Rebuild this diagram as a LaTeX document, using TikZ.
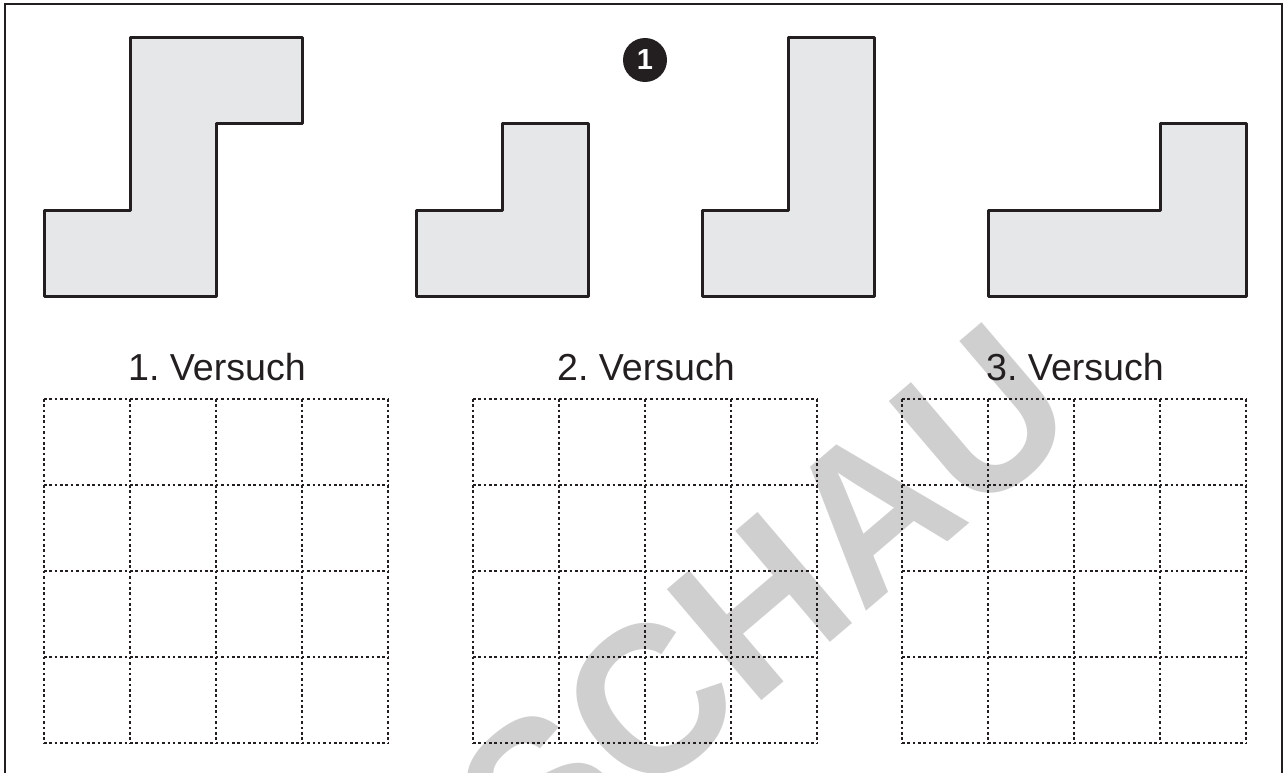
\documentclass[tikz,border=0pt]{standalone}
\usepackage{fontspec}
\setmainfont{Liberation Sans}
\newfontfamily\stampfont{Liberation Sans}[FakeStretch=0.956]
\usepackage{xcolor}
\usetikzlibrary{positioning}
\frenchspacing
\definecolor{inkblack}{HTML}{231F20}
\definecolor{shapegray}{HTML}{E6E7E8}
\definecolor{markgray}{HTML}{CFCFCF}
\tikzset{piece/.style={draw=inkblack,fill=shapegray,line width=3pt,line join=round},
  cellgrid/.style={draw=inkblack,line width=1.6pt,dash pattern=on 2.6pt off 2.77pt},
  trial/.style={anchor=base,font=\fontsize{37.6}{40}\selectfont,text=inkblack,inner sep=0pt},
  badge/.style={circle,fill=inkblack,minimum size=44pt,inner sep=0pt,text=white,font=\fontsize{29}{32}\selectfont\bfseries},
  stamp/.style={anchor=base east,rotate=40.4,inner sep=0pt,text=markgray,font=\stampfont\fontsize{212}{216}\selectfont\bfseries}}
\begin{document}
\begin{tikzpicture}[x=1pt,y=-1pt]
\useasboundingbox (0,0) rectangle (1284,773);
\clip (0,0) rectangle (1284,773);
\node[stamp] (wm) at (1086,425) {SCHAU};
\draw[inkblack,line width=1.6pt] (5,773)--(5,4)--(1282,4)--(1282,773);
% the four pieces
\draw[piece] (44,296)--(216,296)--(216,124)--(302,124)--(302,38)--(130,38)--(130,210)--(44,210)--cycle;
\draw[piece] (416,296)--(588,296)--(588,124)--(502,124)--(502,210)--(416,210)--cycle;
\draw[piece] (702,296)--(874,296)--(874,38)--(788,38)--(788,210)--(702,210)--cycle;
\draw[piece] (988,296)--(1246,296)--(1246,124)--(1160,124)--(1160,210)--(988,210)--cycle;
\node[badge] (one) at (645,60) {1};
% grids
\foreach \xx/\nn in {44/1,473/2,902/3}{
  \foreach \ii in {0,...,4}{
    \draw[cellgrid] ({\xx+86*\ii},399)--({\xx+86*\ii},743);
    \draw[cellgrid] (\xx,{399+86*\ii})--({\xx+344},{399+86*\ii});
  }
  \node[trial] (try\nn) at ({\xx+173},380.5) {\nn. Versuch};
}
\end{tikzpicture}
\end{document}
